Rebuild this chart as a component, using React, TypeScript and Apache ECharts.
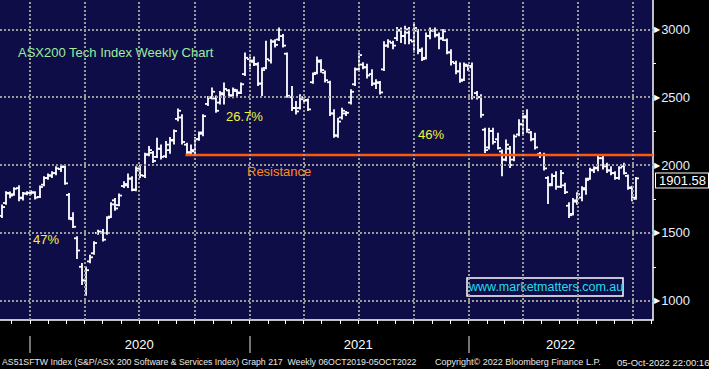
import React, { useEffect, useRef } from "react";
import * as echarts from "echarts";

const DAY = 86400000;
const ts = (s: string) => Date.UTC(+s.slice(0, 4), +s.slice(5, 7) - 1, +s.slice(8, 10));

// weekly bars, first bar week ending 15 Nov 2019
const firstWeek = "2019-11-15";
const opens = [
  1625, 1720, 1790, 1785, 1830, 1755, 1790, 1795, 1795, 1765,
  1855, 1905, 1920, 1940, 1970, 1990, 1780, 1600, 1460, 1250,
  1150, 1290, 1350, 1500, 1505, 1500, 1620, 1740, 1705, 1845,
  1850, 1900, 1820, 1960, 1920, 2080, 2090, 2060, 2120, 2065,
  2110, 2180, 2340, 2350, 2150, 2090, 2100, 2190, 2240, 2450,
  2500, 2490, 2460, 2520, 2550, 2510, 2545, 2535, 2670, 2780,
  2760, 2740, 2600, 2715, 2770, 2910, 2925, 2950, 2820, 2500,
  2420, 2420, 2485, 2480, 2610, 2680, 2760, 2680, 2610, 2380,
  2215, 2350, 2380, 2460, 2595, 2705, 2740, 2720, 2670, 2600,
  2605, 2705, 2880, 2900, 2935, 2990, 2950, 2975, 2910, 2990,
  2850, 2790, 2950, 2990, 2955, 2935, 2920, 2830, 2750, 2690,
  2630, 2730, 2730, 2530, 2500, 2260, 2130, 2250, 2190, 2100,
  2040, 2120, 2040, 2225, 2300, 2350, 2240, 2190, 2080, 2075,
  1905, 1860, 1920, 1840, 1850, 1700, 1640, 1730, 1760, 1820,
  1900, 1960, 1980, 2050, 1995, 1960, 1940, 1905, 1990, 1920,
  1830, 1760,
];
const highs = [
  1702, 1800, 1798, 1830, 1845, 1795, 1800, 1808, 1800, 1842,
  1911, 1931, 1948, 1985, 1993, 1993, 1788, 1646, 1468, 1271,
  1246, 1333, 1431, 1517, 1522, 1616, 1719, 1751, 1783, 1874,
  1931, 1911, 1985, 1998, 2084, 2133, 2096, 2195, 2145, 2170,
  2200, 2256, 2409, 2367, 2158, 2145, 2200, 2240, 2367, 2502,
  2564, 2505, 2539, 2601, 2552, 2564, 2552, 2601, 2823, 2793,
  2793, 2750, 2712, 2909, 2921, 2921, 3007, 2958, 2823, 2576,
  2466, 2515, 2490, 2483, 2675, 2793, 2773, 2690, 2615, 2404,
  2342, 2416, 2392, 2552, 2712, 2823, 2750, 2740, 2700, 2626,
  2613, 2905, 2921, 2909, 3010, 3007, 3020, 3010, 3032, 2995,
  2860, 2970, 3007, 3007, 2970, 2995, 2926, 2847, 2761, 2749,
  2749, 2736, 2749, 2539, 2515, 2268, 2268, 2268, 2232, 2108,
  2182, 2133, 2219, 2330, 2379, 2404, 2244, 2232, 2089, 2084,
  1911, 1931, 1948, 1956, 1862, 1719, 1751, 1793, 1837, 1899,
  1973, 1985, 2064, 2059, 2010, 1985, 1948, 1985, 2010, 1924,
  1840, 1905,
];
const lows = [
  1616, 1714, 1762, 1780, 1740, 1745, 1783, 1788, 1752, 1763,
  1850, 1899, 1911, 1931, 1956, 1862, 1603, 1542, 1315, 1123,
  1044, 1283, 1345, 1493, 1443, 1493, 1616, 1670, 1702, 1837,
  1837, 1813, 1813, 1911, 1911, 2071, 2022, 2059, 2047, 2059,
  2090, 2158, 2330, 2158, 2084, 2084, 2085, 2185, 2219, 2441,
  2490, 2392, 2453, 2453, 2502, 2498, 2502, 2530, 2663, 2712,
  2736, 2589, 2515, 2712, 2754, 2872, 2921, 2872, 2502, 2404,
  2379, 2416, 2466, 2404, 2606, 2675, 2687, 2615, 2367, 2207,
  2207, 2342, 2367, 2453, 2589, 2700, 2712, 2645, 2589, 2567,
  2527, 2700, 2870, 2860, 2920, 2905, 2897, 2897, 2835, 2823,
  2773, 2785, 2933, 2946, 2860, 2920, 2823, 2740, 2675, 2613,
  2626, 2700, 2490, 2490, 2355, 2096, 2121, 2158, 2121, 1924,
  2034, 1985, 2034, 2219, 2232, 2244, 2182, 2121, 2059, 1966,
  1719, 1850, 1825, 1837, 1793, 1616, 1635, 1714, 1739, 1788,
  1899, 1948, 1961, 1973, 1948, 1931, 1899, 1899, 1936, 1825,
  1739, 1750,
];
const closes = [
  1690, 1795, 1775, 1825, 1760, 1790, 1795, 1800, 1760, 1838,
  1905, 1925, 1940, 1975, 1985, 1865, 1610, 1545, 1370, 1150,
  1225, 1320, 1425, 1510, 1450, 1610, 1710, 1680, 1775, 1860,
  1900, 1815, 1975, 1925, 2075, 2110, 2030, 2120, 2060, 2150,
  2185, 2250, 2400, 2170, 2095, 2110, 2190, 2230, 2360, 2495,
  2540, 2400, 2530, 2560, 2515, 2555, 2530, 2595, 2790, 2770,
  2745, 2600, 2700, 2780, 2910, 2885, 2995, 2880, 2510, 2420,
  2395, 2500, 2475, 2410, 2670, 2770, 2700, 2625, 2380, 2220,
  2320, 2400, 2385, 2540, 2705, 2810, 2720, 2660, 2600, 2610,
  2535, 2880, 2910, 2880, 2995, 2950, 3000, 2920, 3010, 2840,
  2780, 2950, 2990, 2960, 2930, 2985, 2830, 2760, 2690, 2620,
  2740, 2720, 2500, 2500, 2370, 2110, 2250, 2170, 2125, 2040,
  2150, 2000, 2210, 2300, 2360, 2260, 2190, 2130, 2075, 1975,
  1850, 1920, 1840, 1940, 1800, 1630, 1740, 1785, 1830, 1890,
  1965, 1975, 2050, 1990, 1960, 1940, 1905, 1980, 1940, 1835,
  1750, 1901.58,
];

const yLabelValues = [1000, 1500, 2000, 2500, 3000];
const yMinorTicks = [1250, 1750, 2250, 2750];
const quarterStarts = [
  "2020-01-01", "2020-04-01", "2020-07-01", "2020-10-01",
  "2021-01-01", "2021-04-01", "2021-07-01", "2021-10-01",
  "2022-01-01", "2022-04-01", "2022-07-01", "2022-10-01",
];
const yearStarts = ["2020-01-01", "2021-01-01", "2022-01-01"];
const yearLabelDates = ["2020-07-01", "2021-07-01", "2022-06-03"];
const xMinDate = "2019-11-12";
const xMaxDate = "2022-11-04";
const resistanceLevel = 2073;
const resistanceFrom = "2020-09-16";
const lastPrice = 1901.58;

const annotations = [
  { text: "26.7%", color: "#f2f23c" },
  { text: "46%", color: "#f2f23c" },
  { text: "47%", color: "#f2f23c" },
  { text: "Resistance", color: "#ff8c1e" },
];

export default function App() {
  const ref = useRef<HTMLDivElement>(null);
  useEffect(() => {
    if (!ref.current) return;
    const chart = echarts.init(ref.current, null, { renderer: "svg" });
    const xMin = ts(xMinDate);
    const xMax = ts(xMaxDate);
    const start = ts(firstWeek);
    const ohlc = opens.map((o, i) => [start + i * 7 * DAY, o, highs[i], lows[i], closes[i]]);
    const monthStarts: number[] = [];
    for (let y = 2019; y <= 2022; y++) {
      for (let m = 0; m < 12; m++) {
        const t = Date.UTC(y, m, 1);
        if (t >= xMin && t <= xMax) monthStarts.push(t);
      }
    }
    const font = "Liberation Sans, Arial, sans-serif";
    const grid = { color: "#9a9a9a", type: [2, 2] as any, width: 2 };

    const renderItem = (_p: any, api: any) => {
      const t = api.value(0);
      const o = api.coord([t, api.value(1)]);
      const h = api.coord([t, api.value(2)]);
      const l = api.coord([t, api.value(3)]);
      const c = api.coord([t, api.value(4)]);
      const x = Math.round(h[0]);
      const style = { stroke: "#ffffff", lineWidth: 1.8 };
      return {
        type: "group",
        children: [
          { type: "line", shape: { x1: x, y1: h[1] - 0.9, x2: x, y2: l[1] + 0.9 }, style },
          { type: "line", shape: { x1: x - 3, y1: o[1], x2: x, y2: o[1] }, style },
          { type: "line", shape: { x1: x, y1: c[1], x2: x + 3, y2: c[1] }, style },
        ],
      };
    };

    const txt = (text: string, x: number, y: number, fill: string, size = 13, scaleX = 1) => ({
      type: "text",
      x,
      y,
      scaleX,
      silent: true,
      style: { text, fill, fontSize: size, fontFamily: font, verticalAlign: "top", align: "left" },
    });

    chart.setOption({
      animation: false,
      backgroundColor: "#000000",
      grid: {
        left: 0,
        right: 56,
        top: 0,
        bottom: 49,
        show: true,
        backgroundColor: "#0f0d47",
        borderWidth: 0,
      },
      xAxis: [
        {
          type: "value",
          min: xMin,
          max: xMax,
          axisLine: { show: true, lineStyle: { color: "#ffffff", width: 1.5 } },
          axisTick: { show: true, customValues: monthStarts, length: 4, lineStyle: { color: "#ffffff" } },
          axisLabel: { show: false },
          splitLine: { show: false },
        },
        {
          type: "value",
          min: xMin,
          max: xMax,
          position: "bottom",
          offset: 16,
          axisLine: { show: false },
          axisTick: {
            show: true,
            customValues: yearStarts.map(ts),
            length: 17,
            lineStyle: { color: "#9a9a9a", width: 1.5 },
          },
          axisLabel: {
            show: true,
            customValues: yearLabelDates.map(ts),
            formatter: (v: number) => String(new Date(v).getUTCFullYear()),
            color: "#ffffff",
            fontSize: 13,
            fontFamily: font,
            margin: 2,
          },
          splitLine: { show: false },
        },
      ],
      yAxis: {
        type: "value",
        position: "right",
        min: 858,
        max: 3216,
        axisLine: { show: true, lineStyle: { color: "#ffffff", width: 1.5 } },
        axisTick: { show: true, customValues: yMinorTicks, length: 3, lineStyle: { color: "#ffffff" } },
        splitLine: { show: false },
        axisLabel: {
          customValues: yLabelValues,
          margin: 1,
          formatter: (v: number) => `{a|▶}{b|${v}}`,
          rich: {
            a: { color: "#ffffff", fontSize: 8, fontFamily: "DejaVu Sans", padding: [0, 1, 0, 0], lineHeight: 12 },
            b: { color: "#e8eeff", fontSize: 13, fontFamily: font, lineHeight: 12 },
          },
        },
      },
      series: [
        {
          type: "line",
          data: [],
          silent: true,
          z: 1,
          markLine: {
            silent: true,
            symbol: ["none", "none"],
            label: { show: false },
            lineStyle: grid,
            data: [
              ...quarterStarts.map((d) => ({ xAxis: ts(d) })),
              ...yLabelValues.map((v) => ({ yAxis: v })),
            ],
          },
        },
        {
          type: "custom",
          silent: true,
          z: 2,
          renderItem,
          encode: { x: 0, y: [1, 2, 3, 4] },
          data: ohlc,
        },
        {
          type: "line",
          silent: true,
          z: 3,
          symbol: "none",
          lineStyle: { color: "#ff5a0a", width: 2.5 },
          data: [
            [ts(resistanceFrom), resistanceLevel],
            [xMax, resistanceLevel],
          ],
          markLine: {
            silent: true,
            symbol: ["none", "none"],
            lineStyle: { width: 0, color: "rgba(0,0,0,0)" },
            label: {
              show: true,
              position: "end",
              distance: 3,
              offset: [0, 2],
              formatter: () => lastPrice.toFixed(2),
              color: "#ffffff",
              fontSize: 13,
              fontFamily: font,
              backgroundColor: "#000000",
              borderColor: "#ffffff",
              borderWidth: 1,
              padding: [1, 2, 0, 3],
              lineHeight: 13,
            },
            data: [{ yAxis: lastPrice }],
          },
        },
      ],
      graphic: [
        txt("ASX200 Tech Index Weekly Chart", 18, 46, "#9cee9c"),
        txt(annotations[0].text, 226, 110, annotations[0].color),
        txt(annotations[1].text, 418, 128, annotations[1].color),
        txt(annotations[2].text, 33, 233, annotations[2].color),
        txt(annotations[3].text, 247, 165, annotations[3].color),
        {
          type: "rect",
          silent: true,
          shape: { x: 467, y: 278, width: 156, height: 18 },
          style: { fill: "none", stroke: "#ffffff", lineWidth: 1.5 },
        },
        txt("www.marketmatters.com.au", 469, 280, "#22dde8", 12.5),
        txt("AS51SFTW Index (S&P/ASX 200 Software & Services Index) Graph 217  Weekly 06OCT2019-05OCT2022", 2, 357, "#e8e8e8", 9.5, 0.92),
        txt("Copyright\u00a9 2022 Bloomberg Finance L.P.", 435, 357, "#e8e8e8", 9.5, 0.95),
        txt("05-Oct-2022 22:00:16", 617, 357, "#e8e8e8", 9.5),
      ],
    });
    return () => chart.dispose();
  }, []);
  return (
    <div
      ref={ref}
      style={{ position: "fixed", left: 0, top: 0, width: 709, height: 369 }}
    />
  );
}
